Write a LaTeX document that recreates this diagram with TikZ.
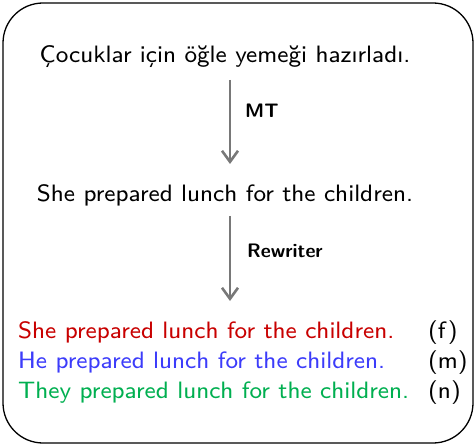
\documentclass[tikz,border=0pt]{standalone}
\usepackage{fontspec}
\usetikzlibrary{arrows.meta}
\newfontfamily\wsans{lmsans8-regular.otf}
\newfontfamily\bsans{lmsans10-bold.otf}
\definecolor{redc}{RGB}{200,0,0}
\definecolor{bluec}{RGB}{60,60,250}
\definecolor{greenc}{RGB}{0,175,80}
\definecolor{arrowc}{RGB}{120,120,120}
\tikzset{
  txt/.style={inner sep=0pt, font=\wsans\fontsize{23.7}{26}\selectfont},
  lbl/.style={inner sep=0pt, anchor=base west, font=\bsans\fontsize{19.5}{22}\selectfont},
  flow/.style={draw=arrowc, line width=2.6pt, -{Straight Barb[length=11pt,width=16pt,line width=2.6pt]}},
  frame/.style={draw=black, line width=1.3pt, rounded corners=40pt}
}
\begin{document}
\begin{tikzpicture}[x=1pt,y=-1pt]
\useasboundingbox (0,0) rectangle (476,446);
\draw[frame] (3,3) rectangle (473,443);
\node[txt, anchor=base] (src) at (225,63) {Çocuklar için öğle yemeği hazırladı.};
\node[txt, anchor=base] (mt) at (225,202) {She prepared lunch for the children.};
\coordinate (a1s) at (230,80);
\coordinate (a1e) at (230,164);
\draw[flow] (a1s) -- (a1e);
\node[lbl] (lmt) at (245,118) {MT};
\coordinate (a2s) at (230,216);
\coordinate (a2e) at (230,301);
\draw[flow] (a2s) -- (a2e);
\node[lbl] (lrw) at (247,257) {Rewriter};
\node[txt, anchor=base west, text=redc] (f) at (18,338) {She prepared lunch for the children.};
\node[txt, anchor=base west, text=bluec] (m) at (18,368) {He prepared lunch for the children.};
\node[txt, anchor=base west, text=greenc] (n) at (18,398) {They prepared lunch for the children.};
\node[txt, anchor=base west] (tf) at (428,338) {(f)};
\node[txt, anchor=base west] (tm) at (428,368) {(m)};
\node[txt, anchor=base west] (tn) at (428,398) {(n)};
\end{tikzpicture}
\end{document}
